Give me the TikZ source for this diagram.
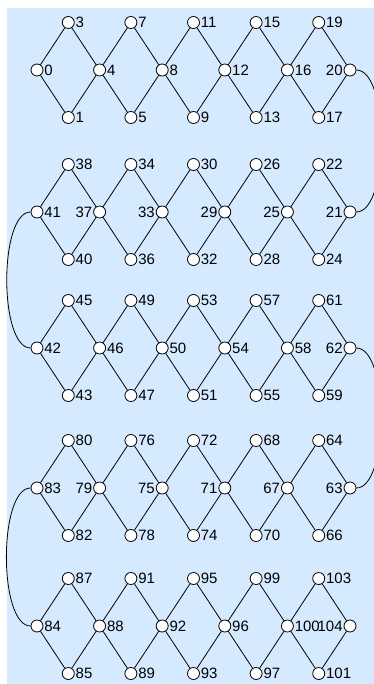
\documentclass[tikz,border=0pt]{standalone}
\usepackage{fontspec}
\setmainfont{Liberation Sans}
\definecolor{bgblue}{RGB}{214,234,255}
\begin{document}
\begin{tikzpicture}[x=1pt,y=-1pt,
  vtx/.style={circle,draw=black,fill=white,line width=0.8pt,minimum size=12pt,inner sep=0pt},
  edge/.style={line width=0.8pt},
  lbl/.style={font=\fontsize{15}{15}\selectfont,inner sep=0.8pt}]
\useasboundingbox (0,0) rectangle (374,684);
\fill[bgblue] (7,8) rectangle (374,684);
% nodes
\foreach \r/\ym in {0/70,1/212,2/348,3/488,4/626} {
  \pgfmathtruncatemacro\base{21*\r}
  \pgfmathtruncatemacro\odd{mod(\r,2)}
  \foreach \c in {0,...,5} {
    \pgfmathtruncatemacro\n{\base+4*\c}
    \pgfmathsetmacro\xx{ifthenelse(\odd==0,37+62.6*\c,37+62.6*(5-\c))}
    \pgfmathtruncatemacro\isleft{(\odd==0 && \c==5) || (\odd==1 && \c<5)}
    \node[vtx] (n\n) at (\xx,\ym) {};
    \ifnum\isleft=1
      \node[lbl,anchor=east] (L\n) at (n\n.west) {\n};
    \else
      \node[lbl,anchor=west] (L\n) at (n\n.east) {\n};
    \fi
  }
  \foreach \k in {0,...,4} {
    \pgfmathtruncatemacro\nt{ifthenelse(\odd==0,\base+4*\k+3,\base+4*\k+1)}
    \pgfmathtruncatemacro\nb{ifthenelse(\odd==0,\base+4*\k+1,\base+4*\k+3)}
    \pgfmathsetmacro\xx{ifthenelse(\odd==0,37+62.6*(\k+0.5),37+62.6*(4.5-\k))}
    \node[vtx] (n\nt) at (\xx,\ym-47.5) {};
    \node[lbl,anchor=west] (L\nt) at (n\nt.east) {\nt};
    \node[vtx] (n\nb) at (\xx,\ym+47.5) {};
    \node[lbl,anchor=west] (L\nb) at (n\nb.east) {\nb};
  }
}
% edges
\foreach \r in {0,...,4} {
  \pgfmathtruncatemacro\base{21*\r}
  \pgfmathtruncatemacro\odd{mod(\r,2)}
  \foreach \k in {0,...,4} {
    \pgfmathtruncatemacro\ma{\base+4*\k}
    \pgfmathtruncatemacro\mb{\base+4*\k+4}
    \pgfmathtruncatemacro\nt{ifthenelse(\odd==0,\base+4*\k+3,\base+4*\k+1)}
    \pgfmathtruncatemacro\nb{ifthenelse(\odd==0,\base+4*\k+1,\base+4*\k+3)}
    \draw[edge] (n\ma) -- (n\nt) -- (n\mb);
    \draw[edge] (n\ma) -- (n\nb) -- (n\mb);
  }
}
\draw[edge] (n20) to[out=0,in=0,looseness=0.6] (n21);
\draw[edge] (n41) to[out=180,in=180,looseness=0.6] (n42);
\draw[edge] (n62) to[out=0,in=0,looseness=0.6] (n63);
\draw[edge] (n83) to[out=180,in=180,looseness=0.6] (n84);
\end{tikzpicture}
\end{document}
